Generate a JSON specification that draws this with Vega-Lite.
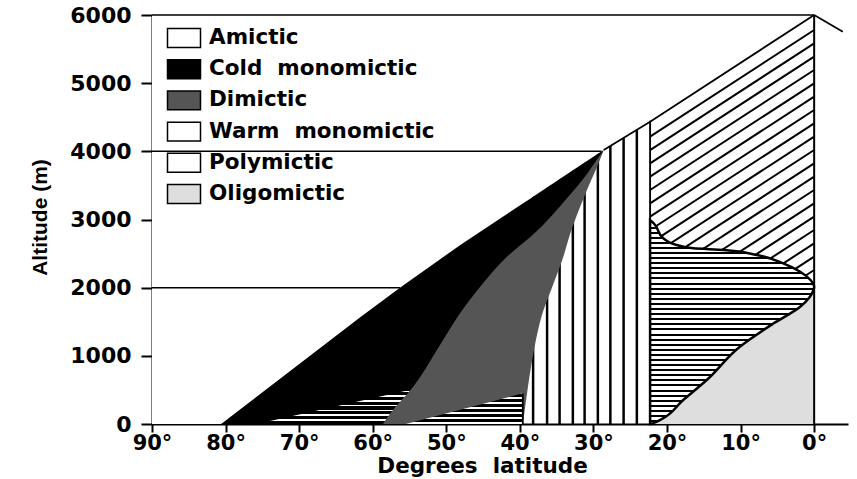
{
  "$schema": "https://vega.github.io/schema/vega-lite/v6.json",
  "width": 696,
  "height": 409,
  "autosize": {"type": "none"},
  "padding": {"left": 152, "top": 15, "right": 9, "bottom": 55},
  "background": "white",
  "view": {"stroke": null},
  "config": {
    "axis": {"zindex": 1, "domainColor": "black", "tickColor": "black", "labelColor": "black", "titleColor": "black", "grid": false, "labelFont": "DejaVu Sans", "labelFontWeight": "bold", "labelFontSize": 21, "domainWidth": 2, "tickWidth": 2, "labelFlush": false, "labelOverlap": false},
    "legend": {"orient": "none", "legendX": 16, "legendY": 7, "symbolType": "M-1.1,-0.63H1.1V0.63H-1.1Z", "symbolSize": 900, "symbolStrokeColor": "black", "symbolStrokeWidth": 1.5, "labelFont": "DejaVu Sans", "labelFontSize": 21.5, "labelFontWeight": "bold", "labelColor": "black", "labelOffset": 9, "rowPadding": 2.2, "padding": 0, "labelLimit": 400}
  },
  "datasets": {
    "warm": [
      {"lat": 38.2, "alt": 0, "alt2": 4500}, {"lat": 36.3, "alt": 0, "alt2": 4500}, {"lat": 34.6, "alt": 0, "alt2": 4500},
      {"lat": 32.8, "alt": 0, "alt2": 4500}, {"lat": 31.2, "alt": 0, "alt2": 4500}, {"lat": 29.4, "alt": 0, "alt2": 4500},
      {"lat": 27.7, "alt": 0, "alt2": 4500}, {"lat": 25.9, "alt": 0, "alt2": 4500}, {"lat": 24.1, "alt": 0, "alt2": 4500}
    ],
    "diag": [
      {"lat": 22.3, "alt": 4215, "lat2": 0, "alt2": 5780},
      {"lat": 22.3, "alt": 4019, "lat2": 0, "alt2": 5584},
      {"lat": 22.3, "alt": 3824, "lat2": 0, "alt2": 5389},
      {"lat": 22.3, "alt": 3628, "lat2": 0, "alt2": 5193},
      {"lat": 22.3, "alt": 3433, "lat2": 0, "alt2": 4998},
      {"lat": 22.3, "alt": 3237, "lat2": 0, "alt2": 4802},
      {"lat": 22.3, "alt": 3041, "lat2": 0, "alt2": 4606},
      {"lat": 22.3, "alt": 2846, "lat2": 0, "alt2": 4411},
      {"lat": 22.3, "alt": 2650, "lat2": 0, "alt2": 4215},
      {"lat": 22.3, "alt": 2455, "lat2": 0, "alt2": 4020},
      {"lat": 22.3, "alt": 2259, "lat2": 0, "alt2": 3824},
      {"lat": 22.3, "alt": 2063, "lat2": 0, "alt2": 3628},
      {"lat": 22.3, "alt": 1868, "lat2": 0, "alt2": 3433},
      {"lat": 22.3, "alt": 1672, "lat2": 0, "alt2": 3237},
      {"lat": 22.3, "alt": 1477, "lat2": 0, "alt2": 3042},
      {"lat": 22.3, "alt": 1281, "lat2": 0, "alt2": 2846},
      {"lat": 22.3, "alt": 1085, "lat2": 0, "alt2": 2650},
      {"lat": 22.3, "alt": 890, "lat2": 0, "alt2": 2455},
      {"lat": 22.3, "alt": 694, "lat2": 0, "alt2": 2259},
      {"lat": 22.3, "alt": 499, "lat2": 0, "alt2": 2064}
    ],
    "amictic": [
      {"type": "Amictic", "lat": 90, "alt": 0},
      {"type": "Amictic", "lat": 80.6, "alt": 0},
      {"type": "Amictic", "lat": 61.7, "alt": 1565},
      {"type": "Amictic", "lat": 56.3, "alt": 2000},
      {"type": "Amictic", "lat": 48.1, "alt": 2626},
      {"type": "Amictic", "lat": 28.6, "alt": 4020},
      {"type": "Amictic", "lat": 22.3, "alt": 4435},
      {"type": "Amictic", "lat": 0, "alt": 6000}
    ],
    "cold": [
      {"type": "Cold monomictic", "lat": 80.6, "alt": 0, "alt2": 0},
      {"type": "Cold monomictic", "lat": 61.7, "alt": 0, "alt2": 1565},
      {"type": "Cold monomictic", "lat": 56.3, "alt": 0, "alt2": 2000},
      {"type": "Cold monomictic", "lat": 48.1, "alt": 0, "alt2": 2626},
      {"type": "Cold monomictic", "lat": 39.6, "alt": 0, "alt2": 3234},
      {"type": "Cold monomictic", "lat": 38.6, "alt": 1700, "alt2": 3305},
      {"type": "Cold monomictic", "lat": 37.7, "alt": 2040, "alt2": 3370},
      {"type": "Cold monomictic", "lat": 35.3, "alt": 2580, "alt2": 3542},
      {"type": "Cold monomictic", "lat": 33.2, "alt": 3060, "alt2": 3692},
      {"type": "Cold monomictic", "lat": 31.2, "alt": 3480, "alt2": 3835},
      {"type": "Cold monomictic", "lat": 29.5, "alt": 3827, "alt2": 3956},
      {"type": "Cold monomictic", "lat": 28.6, "alt": 4020, "alt2": 4020}
    ],
    "h1": [{"lat": 75.8, "alt": 0}, {"lat": 55, "alt": 500}],
    "dimictic": [
      {"type": "Dimictic", "alt": 0, "lat": 58.6, "lat2": 39.6},
      {"type": "Dimictic", "alt": 156, "lat": 57.6, "lat2": 39.4},
      {"type": "Dimictic", "alt": 547, "lat": 54.5, "lat2": 38.9},
      {"type": "Dimictic", "alt": 1134, "lat": 51.0, "lat2": 38.0},
      {"type": "Dimictic", "alt": 1600, "lat": 48.3, "lat2": 37.0},
      {"type": "Dimictic", "alt": 2040, "lat": 45.2, "lat2": 35.5},
      {"type": "Dimictic", "alt": 2450, "lat": 41.8, "lat2": 34.1},
      {"type": "Dimictic", "alt": 2780, "lat": 38.2, "lat2": 33.2},
      {"type": "Dimictic", "alt": 3350, "lat": 33.3, "lat2": 31.2},
      {"type": "Dimictic", "alt": 3580, "lat": 31.5, "lat2": 30.3},
      {"type": "Dimictic", "alt": 3775, "lat": 30.2, "lat2": 29.5},
      {"type": "Dimictic", "alt": 4020, "lat": 28.6, "lat2": 28.6}
    ],
    "h2": [{"lat": 55.5, "alt": 0}, {"lat": 39.6, "alt": 450}],
    "oligo": [
      {"type": "Oligomictic", "lat": 22.1, "alt": 0},
      {"type": "Oligomictic", "lat": 20.9, "alt": 59},
      {"type": "Oligomictic", "lat": 17.8, "alt": 352},
      {"type": "Oligomictic", "lat": 14.6, "alt": 645},
      {"type": "Oligomictic", "lat": 10.1, "alt": 1134},
      {"type": "Oligomictic", "lat": 5.5, "alt": 1477},
      {"type": "Oligomictic", "lat": 1.9, "alt": 1720},
      {"type": "Oligomictic", "lat": 0.1, "alt": 1965},
      {"type": "Oligomictic", "lat": 0, "alt": 2000}
    ],
    "h3": [
      {"alt": 0, "lat": 22.1},
      {"alt": 59, "lat": 20.9},
      {"alt": 352, "lat": 17.8},
      {"alt": 645, "lat": 14.6},
      {"alt": 1134, "lat": 10.1},
      {"alt": 1477, "lat": 5.5},
      {"alt": 1720, "lat": 1.9},
      {"alt": 1965, "lat": 0.1},
      {"alt": 2010, "lat": 0},
      {"alt": 2112, "lat": 0.5},
      {"alt": 2234, "lat": 1.9},
      {"alt": 2357, "lat": 4.2},
      {"alt": 2479, "lat": 7.8},
      {"alt": 2553, "lat": 12.3},
      {"alt": 2577, "lat": 16.4},
      {"alt": 2626, "lat": 18.7},
      {"alt": 2724, "lat": 20.5},
      {"alt": 2944, "lat": 21.8},
      {"alt": 2990, "lat": 22.3}
    ],
    "lines": [
      {"part": "grid", "lat": 90, "alt": 2000, "lat2": 56.3, "alt2": 2000},
      {"part": "grid", "lat": 90, "alt": 4000, "lat2": 28.9, "alt2": 4000},
      {"part": "frame", "lat": 90, "alt": 6000, "lat2": 0, "alt2": 6000},
      {"part": "edge", "lat": 28.6, "alt": 4020, "lat2": 22.3, "alt2": 4435},
      {"part": "edge", "lat": 22.3, "alt": 4435, "lat2": 0, "alt2": 6000},
      {"part": "frame", "lat": 0, "alt": 6000, "lat2": -3.9, "alt2": 5755},
      {"part": "edge", "lat": 39.6, "alt": 0, "lat2": 39.6, "alt2": 450},
      {"part": "divider", "lat": 22.3, "alt": 0, "lat2": 22.3, "alt2": 4450},
      {"part": "wall", "lat": 0, "alt": 0, "lat2": 0, "alt2": 6000}
    ]
  },
  "encoding": {
    "x": {"field": "lat", "type": "quantitative", "scale": {"domain": [90, -4.6], "zero": false, "nice": false},
      "axis": {"values": [90, 80, 70, 60, 50, 40, 30, 20, 10, 0], "labelExpr": "datum.value + '°'", "tickSize": 8, "labelPadding": 0, "title": "Degrees\u00a0 latitude", "titleFont": "DejaVu Sans", "titleFontWeight": "bold", "titleFontSize": 21.5, "titleX": 330, "titleY": 48, "titleBaseline": "alphabetic", "titleAlign": "center"}},
    "y": {"field": "alt", "type": "quantitative", "scale": {"domain": [0, 6000], "zero": false, "nice": false},
      "axis": {"values": [0, 1000, 2000, 3000, 4000, 5000, 6000], "format": "d", "labelFontSize": 22, "tickSize": 11, "labelPadding": 10, "title": "Altitude (m)", "titleFont": "Liberation Sans", "titleFontWeight": "bold", "titleFontSize": 21, "titleAngle": -90, "titleX": -112, "titleY": 202, "titleBaseline": "middle", "titleAlign": "center"}},
    "fill": {"field": "type", "type": "nominal",
      "scale": {"domain": ["Amictic", "Cold monomictic", "Dimictic", "Warm monomictic", "Polymictic", "Oligomictic"],
        "range": ["#ffffff", "#000000", "#555555", "#ffffff", "#ffffff", "#dedede"]},
      "legend": {"title": null, "labelExpr": "replace(datum.label, ' ', '\u00a0 ')",
        "encode": {"symbols": {
          "stroke": {"value": "black"}, "strokeWidth": {"value": 1.5}
        }}}}
  },
  "layer": [
    {"data": {"name": "warm"}, "mark": {"type": "rule", "color": "black", "strokeWidth": 2.5},
      "encoding": {"y2": {"field": "alt2"}, "fill": null}},
    {"data": {"name": "diag"}, "mark": {"type": "rule", "color": "black", "strokeWidth": 2},
      "encoding": {"x2": {"field": "lat2"}, "y2": {"field": "alt2"}, "fill": null}},
    {"data": {"name": "amictic"}, "mark": {"type": "area", "opacity": 1},
      "encoding": {"y2": {"datum": 6000}}},
    {"data": {"name": "cold"}, "mark": {"type": "area", "opacity": 1},
      "encoding": {"y2": {"field": "alt2"}}},
    {"data": {"name": "h1"}, "mark": {"type": "area", "opacity": 1, "fill": {"gradient": "linear", "x1": 0, "y1": 0, "x2": 0, "y2": 1, "stops": [
        {"offset": 0, "color": "#000"},
        {"offset": 0.018, "color": "#000"}, {"offset": 0.018, "color": "#fff"}, {"offset": 0.062, "color": "#fff"}, {"offset": 0.062, "color": "#000"},
        {"offset": 0.158, "color": "#000"}, {"offset": 0.158, "color": "#fff"}, {"offset": 0.202, "color": "#fff"}, {"offset": 0.202, "color": "#000"},
        {"offset": 0.298, "color": "#000"}, {"offset": 0.298, "color": "#fff"}, {"offset": 0.342, "color": "#fff"}, {"offset": 0.342, "color": "#000"},
        {"offset": 0.438, "color": "#000"}, {"offset": 0.438, "color": "#fff"}, {"offset": 0.482, "color": "#fff"}, {"offset": 0.482, "color": "#000"},
        {"offset": 0.578, "color": "#000"}, {"offset": 0.578, "color": "#fff"}, {"offset": 0.622, "color": "#fff"}, {"offset": 0.622, "color": "#000"},
        {"offset": 0.718, "color": "#000"}, {"offset": 0.718, "color": "#fff"}, {"offset": 0.762, "color": "#fff"}, {"offset": 0.762, "color": "#000"},
        {"offset": 0.86, "color": "#000"}, {"offset": 0.86, "color": "#fff"}, {"offset": 0.904, "color": "#fff"}, {"offset": 0.904, "color": "#000"},
        {"offset": 1, "color": "#000"}]}},
      "encoding": {"y2": {"datum": 0}, "fill": null}},
    {"data": {"name": "dimictic"}, "mark": {"type": "area", "orient": "horizontal", "interpolate": "monotone", "opacity": 1},
      "encoding": {"x2": {"field": "lat2"}}},
    {"data": {"name": "h2"}, "mark": {"type": "area", "opacity": 1, "fill": {"gradient": "linear", "x1": 0, "y1": 0, "x2": 0, "y2": 1, "stops": [
        {"offset": 0, "color": "#fff"},
        {"offset": 0.03, "color": "#fff"}, {"offset": 0.03, "color": "#000"}, {"offset": 0.13, "color": "#000"}, {"offset": 0.13, "color": "#fff"},
        {"offset": 0.193, "color": "#fff"}, {"offset": 0.193, "color": "#000"}, {"offset": 0.293, "color": "#000"}, {"offset": 0.293, "color": "#fff"},
        {"offset": 0.356, "color": "#fff"}, {"offset": 0.356, "color": "#000"}, {"offset": 0.456, "color": "#000"}, {"offset": 0.456, "color": "#fff"},
        {"offset": 0.519, "color": "#fff"}, {"offset": 0.519, "color": "#000"}, {"offset": 0.619, "color": "#000"}, {"offset": 0.619, "color": "#fff"},
        {"offset": 0.682, "color": "#fff"}, {"offset": 0.682, "color": "#000"}, {"offset": 0.782, "color": "#000"}, {"offset": 0.782, "color": "#fff"},
        {"offset": 0.845, "color": "#fff"}, {"offset": 0.845, "color": "#000"}, {"offset": 0.945, "color": "#000"}, {"offset": 0.945, "color": "#fff"},
        {"offset": 1, "color": "#fff"}]}},
      "encoding": {"y2": {"datum": 0}, "fill": null}},
    {"data": {"name": "oligo"}, "mark": {"type": "area", "opacity": 1},
      "encoding": {"y2": {"datum": 0}}},
    {"data": {"name": "h3"}, "mark": {"type": "area", "orient": "horizontal", "interpolate": "monotone", "opacity": 1, "stroke": "black", "strokeWidth": 2.5, "fill": {"gradient": "linear", "x1": 0, "y1": 0, "x2": 0, "y2": 1, "stops": [
        {"offset": 0, "color": "#fff"},
        {"offset": 0.006, "color": "#fff"}, {"offset": 0.006, "color": "#000"}, {"offset": 0.016, "color": "#000"}, {"offset": 0.016, "color": "#fff"},
        {"offset": 0.031, "color": "#fff"}, {"offset": 0.031, "color": "#000"}, {"offset": 0.041, "color": "#000"}, {"offset": 0.041, "color": "#fff"},
        {"offset": 0.056, "color": "#fff"}, {"offset": 0.056, "color": "#000"}, {"offset": 0.066, "color": "#000"}, {"offset": 0.066, "color": "#fff"},
        {"offset": 0.081, "color": "#fff"}, {"offset": 0.081, "color": "#000"}, {"offset": 0.091, "color": "#000"}, {"offset": 0.091, "color": "#fff"},
        {"offset": 0.106, "color": "#fff"}, {"offset": 0.106, "color": "#000"}, {"offset": 0.116, "color": "#000"}, {"offset": 0.116, "color": "#fff"},
        {"offset": 0.131, "color": "#fff"}, {"offset": 0.131, "color": "#000"}, {"offset": 0.141, "color": "#000"}, {"offset": 0.141, "color": "#fff"},
        {"offset": 0.156, "color": "#fff"}, {"offset": 0.156, "color": "#000"}, {"offset": 0.166, "color": "#000"}, {"offset": 0.166, "color": "#fff"},
        {"offset": 0.181, "color": "#fff"}, {"offset": 0.181, "color": "#000"}, {"offset": 0.191, "color": "#000"}, {"offset": 0.191, "color": "#fff"},
        {"offset": 0.206, "color": "#fff"}, {"offset": 0.206, "color": "#000"}, {"offset": 0.216, "color": "#000"}, {"offset": 0.216, "color": "#fff"},
        {"offset": 0.231, "color": "#fff"}, {"offset": 0.231, "color": "#000"}, {"offset": 0.241, "color": "#000"}, {"offset": 0.241, "color": "#fff"},
        {"offset": 0.256, "color": "#fff"}, {"offset": 0.256, "color": "#000"}, {"offset": 0.266, "color": "#000"}, {"offset": 0.266, "color": "#fff"},
        {"offset": 0.281, "color": "#fff"}, {"offset": 0.281, "color": "#000"}, {"offset": 0.291, "color": "#000"}, {"offset": 0.291, "color": "#fff"},
        {"offset": 0.306, "color": "#fff"}, {"offset": 0.306, "color": "#000"}, {"offset": 0.316, "color": "#000"}, {"offset": 0.316, "color": "#fff"},
        {"offset": 0.331, "color": "#fff"}, {"offset": 0.331, "color": "#000"}, {"offset": 0.341, "color": "#000"}, {"offset": 0.341, "color": "#fff"},
        {"offset": 0.356, "color": "#fff"}, {"offset": 0.356, "color": "#000"}, {"offset": 0.366, "color": "#000"}, {"offset": 0.366, "color": "#fff"},
        {"offset": 0.381, "color": "#fff"}, {"offset": 0.381, "color": "#000"}, {"offset": 0.391, "color": "#000"}, {"offset": 0.391, "color": "#fff"},
        {"offset": 0.406, "color": "#fff"}, {"offset": 0.406, "color": "#000"}, {"offset": 0.416, "color": "#000"}, {"offset": 0.416, "color": "#fff"},
        {"offset": 0.431, "color": "#fff"}, {"offset": 0.431, "color": "#000"}, {"offset": 0.441, "color": "#000"}, {"offset": 0.441, "color": "#fff"},
        {"offset": 0.456, "color": "#fff"}, {"offset": 0.456, "color": "#000"}, {"offset": 0.466, "color": "#000"}, {"offset": 0.466, "color": "#fff"},
        {"offset": 0.481, "color": "#fff"}, {"offset": 0.481, "color": "#000"}, {"offset": 0.491, "color": "#000"}, {"offset": 0.491, "color": "#fff"},
        {"offset": 0.506, "color": "#fff"}, {"offset": 0.506, "color": "#000"}, {"offset": 0.516, "color": "#000"}, {"offset": 0.516, "color": "#fff"},
        {"offset": 0.531, "color": "#fff"}, {"offset": 0.531, "color": "#000"}, {"offset": 0.541, "color": "#000"}, {"offset": 0.541, "color": "#fff"},
        {"offset": 0.556, "color": "#fff"}, {"offset": 0.556, "color": "#000"}, {"offset": 0.566, "color": "#000"}, {"offset": 0.566, "color": "#fff"},
        {"offset": 0.581, "color": "#fff"}, {"offset": 0.581, "color": "#000"}, {"offset": 0.591, "color": "#000"}, {"offset": 0.591, "color": "#fff"},
        {"offset": 0.606, "color": "#fff"}, {"offset": 0.606, "color": "#000"}, {"offset": 0.616, "color": "#000"}, {"offset": 0.616, "color": "#fff"},
        {"offset": 0.631, "color": "#fff"}, {"offset": 0.631, "color": "#000"}, {"offset": 0.641, "color": "#000"}, {"offset": 0.641, "color": "#fff"},
        {"offset": 0.656, "color": "#fff"}, {"offset": 0.656, "color": "#000"}, {"offset": 0.666, "color": "#000"}, {"offset": 0.666, "color": "#fff"},
        {"offset": 0.681, "color": "#fff"}, {"offset": 0.681, "color": "#000"}, {"offset": 0.691, "color": "#000"}, {"offset": 0.691, "color": "#fff"},
        {"offset": 0.706, "color": "#fff"}, {"offset": 0.706, "color": "#000"}, {"offset": 0.716, "color": "#000"}, {"offset": 0.716, "color": "#fff"},
        {"offset": 0.731, "color": "#fff"}, {"offset": 0.731, "color": "#000"}, {"offset": 0.741, "color": "#000"}, {"offset": 0.741, "color": "#fff"},
        {"offset": 0.756, "color": "#fff"}, {"offset": 0.756, "color": "#000"}, {"offset": 0.766, "color": "#000"}, {"offset": 0.766, "color": "#fff"},
        {"offset": 0.781, "color": "#fff"}, {"offset": 0.781, "color": "#000"}, {"offset": 0.791, "color": "#000"}, {"offset": 0.791, "color": "#fff"},
        {"offset": 0.806, "color": "#fff"}, {"offset": 0.806, "color": "#000"}, {"offset": 0.816, "color": "#000"}, {"offset": 0.816, "color": "#fff"},
        {"offset": 0.831, "color": "#fff"}, {"offset": 0.831, "color": "#000"}, {"offset": 0.841, "color": "#000"}, {"offset": 0.841, "color": "#fff"},
        {"offset": 0.856, "color": "#fff"}, {"offset": 0.856, "color": "#000"}, {"offset": 0.866, "color": "#000"}, {"offset": 0.866, "color": "#fff"},
        {"offset": 0.881, "color": "#fff"}, {"offset": 0.881, "color": "#000"}, {"offset": 0.891, "color": "#000"}, {"offset": 0.891, "color": "#fff"},
        {"offset": 0.906, "color": "#fff"}, {"offset": 0.906, "color": "#000"}, {"offset": 0.916, "color": "#000"}, {"offset": 0.916, "color": "#fff"},
        {"offset": 0.931, "color": "#fff"}, {"offset": 0.931, "color": "#000"}, {"offset": 0.941, "color": "#000"}, {"offset": 0.941, "color": "#fff"},
        {"offset": 0.956, "color": "#fff"}, {"offset": 0.956, "color": "#000"}, {"offset": 0.966, "color": "#000"}, {"offset": 0.966, "color": "#fff"},
        {"offset": 0.981, "color": "#fff"}, {"offset": 0.981, "color": "#000"}, {"offset": 0.991, "color": "#000"}, {"offset": 0.991, "color": "#fff"},
        {"offset": 1, "color": "#fff"}]}},
      "encoding": {"x2": {"datum": 22.3}, "fill": null}},
    {"data": {"name": "lines"}, "mark": {"type": "rule", "color": "black"},
      "encoding": {"x2": {"field": "lat2"}, "y2": {"field": "alt2"}, "fill": null,
        "strokeWidth": {"field": "part", "type": "nominal", "scale": {"domain": ["grid", "frame", "edge", "divider", "wall"], "range": [1.5, 2, 2.5, 4, 3]}, "legend": null}}}
  ]
}
